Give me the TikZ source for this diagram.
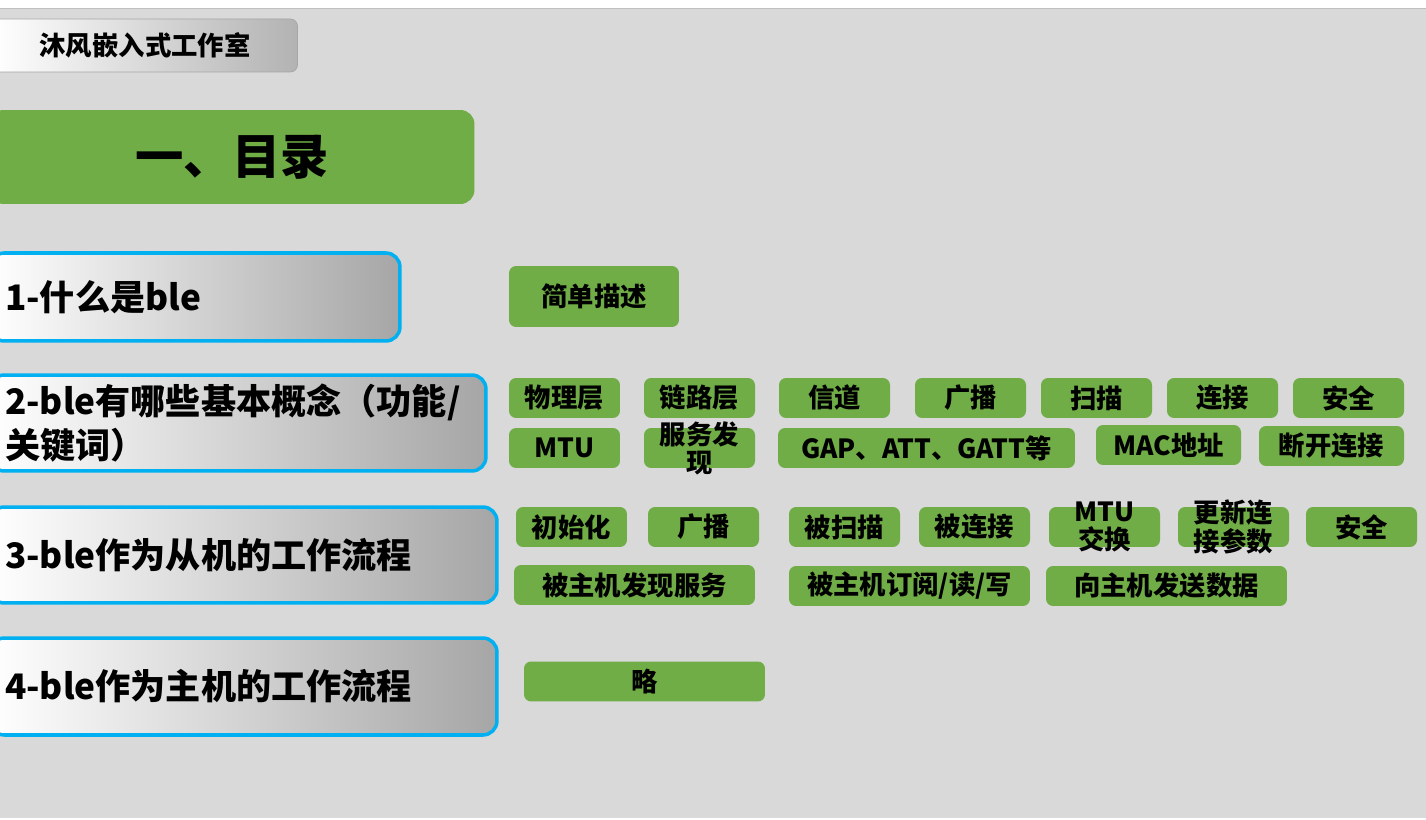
\documentclass[tikz,border=0pt]{standalone}
\usepackage{fontspec}
\setmainfont{Noto Sans CJK SC}
\usetikzlibrary{positioning}
\definecolor{slidebg}{HTML}{D9D9D9}
\definecolor{leaf}{HTML}{70AD47}
\definecolor{frame}{HTML}{00B0F0}
\tikzset{
    title/.style = {
        draw=gray!70,
        shape=rectangle,
        rounded corners=4pt,
        left color=white,
        right color=gray!60,
        minimum width=6.1cm,
        minimum height=1.06cm,
        font=\fontsize{15}{17}\selectfont\bfseries
    },
    header/.style = {
        shape=rectangle,
        fill=leaf,
        rounded corners=8pt,
        minimum width=9.7cm,
        minimum height=1.88cm,
        font=\fontsize{27.5}{31}\selectfont\bfseries
    },
    section/.style = {
        draw=frame,
        line width=2pt,
        shape=rectangle,
        rounded corners=8pt,
        left color=white,
        right color=gray!70,
        inner xsep=0.3cm,
        align=left,
        font=\fontsize{20}{25}\selectfont\bfseries
    },
    tag/.style = {
        shape=rectangle,
        fill=leaf,
        rounded corners=4pt,
        minimum width=2.22cm,
        minimum height=0.8cm,
        inner sep=0pt,
        font=\fontsize{15}{16}\selectfont\bfseries
    },
    tagtext/.style = {
        align=center,
        inner sep=0pt,
        font=\fontsize{15}{16}\selectfont\bfseries
    },
}
\begin{document}
\begin{tikzpicture}[x=0.02cm,y=-0.02cm]
            \useasboundingbox (0,0) rectangle (1426,820);
            \fill[white] (0,0) rectangle (1426,820);
            \fill[slidebg] (0,8) rectangle (1426,818);
            \draw[gray!50] (0,8) -- (1426,8);

            \node[title] (studio) at (145,45.5) {沐风嵌入式工作室};
            \node[header] (toc) at (232,157) {一、目录};

            % left column
            \node[section, minimum width=8.2cm, minimum height=1.76cm, text width=7.6cm] (sec1) at (195,297) {1-什么是ble};
            \node[section, minimum width=9.92cm, minimum height=1.92cm, text width=9.32cm] (sec2) at (238,423) {2-ble有哪些基本概念（功能/\\关键词）};
            \node[section, minimum width=10.14cm, minimum height=1.92cm, text width=9.54cm] (sec3) at (243.5,555) {3-ble作为从机的工作流程};
            \node[section, minimum width=10.14cm, minimum height=1.94cm, text width=9.54cm] (sec4) at (243.5,686.5) {4-ble作为主机的工作流程};

            % section 1
            \node[tag, minimum width=3.4cm, minimum height=1.22cm] (brief) at (594,296.5) {简单描述};

            % section 2
            \node[tag] (phy) at (564.5,398) {物理层};
            \node[tag] (link) at (699.5,398) {链路层};
            \node[tag] (channel) at (834.5,398) {信道};
            \node[tag] (adv) at (970.5,398) {广播};
            \node[tag] (scan) at (1096.5,398) {扫描};
            \node[tag] (conn) at (1222.5,398) {连接};
            \node[tag] (sec) at (1348.5,398) {安全};
            \node[tag] (mtu) at (564.5,448) {MTU};
            \node[tag, label={[tagtext]center:服务发\\现}] (discover) at (699.5,448) {};
            \node[tag, minimum width=5.94cm] (gap) at (926.5,448) {GAP、ATT、GATT等};
            \node[tag, minimum width=2.9cm] (mac) at (1168.5,445) {MAC地址};
            \node[tag, minimum width=2.9cm] (disconn) at (1331.5,446) {断开连接};

            % section 3
            \node[tag] (init) at (571.5,527) {初始化};
            \node[tag] (sadv) at (703.5,527) {广播};
            \node[tag] (scanned) at (844.5,527) {被扫描};
            \node[tag] (connected) at (974.5,527) {被连接};
            \node[tag, label={[tagtext]center:MTU\\交换}] (mtuex) at (1104.5,527) {};
            \node[tag, label={[tagtext]center:更新连\\接参数}] (update) at (1233.5,527) {};
            \node[tag] (ssec) at (1361.5,527) {安全};
            \node[tag, minimum width=4.82cm] (found) at (634.5,585) {被主机发现服务};
            \node[tag, minimum width=4.82cm] (subscribe) at (909.5,586) {被主机订阅/读/写};
            \node[tag, minimum width=4.82cm] (send) at (1166.5,586) {向主机发送数据};

            % section 4
            \node[tag, minimum width=4.82cm] (skip) at (644.5,681.5) {略};
\end{tikzpicture}
\end{document}
